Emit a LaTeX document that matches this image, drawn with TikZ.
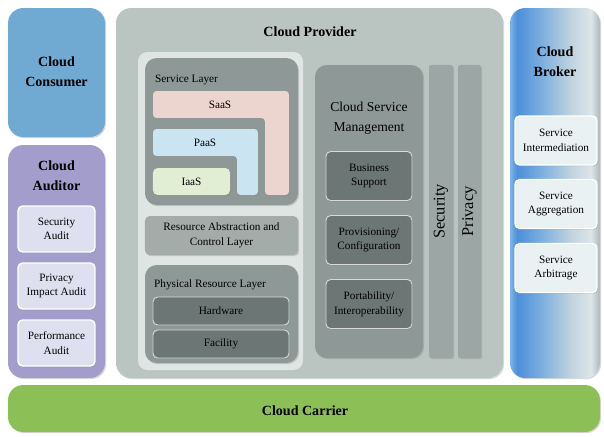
\documentclass[tikz,border=0pt]{standalone}
\usepackage{fontspec}
\setmainfont{Liberation Serif}
\usetikzlibrary{shadows}
\definecolor{consumer}{RGB}{112,170,210}
\definecolor{auditor}{RGB}{162,157,202}
\definecolor{auditbox}{RGB}{222,224,240}
\definecolor{provider}{RGB}{186,196,193}
\definecolor{panel}{RGB}{222,229,227}
\definecolor{layer}{RGB}{142,152,150}
\definecolor{racl}{RGB}{164,172,170}
\definecolor{darkbox}{RGB}{108,118,116}
\definecolor{bar}{RGB}{156,166,164}
\definecolor{saas}{RGB}{236,212,207}
\definecolor{paas}{RGB}{202,228,242}
\definecolor{iaas}{RGB}{226,238,212}
\definecolor{brokbox}{RGB}{234,241,243}
\definecolor{carrier}{RGB}{140,192,86}
\pgfdeclarehorizontalshading{brokershade}{100bp}{rgb(0bp)=(0.50,0.70,0.90); rgb(25bp)=(0.50,0.70,0.90);
 rgb(29bp)=(0.30,0.56,0.85); rgb(42bp)=(0.48,0.68,0.87); rgb(58bp)=(0.74,0.82,0.87);
 rgb(70bp)=(0.87,0.90,0.91); rgb(75bp)=(0.68,0.72,0.74); rgb(100bp)=(0.68,0.72,0.74)}
\newcommand{\ft}{\fontsize{9.6}{12.5}\selectfont}
\newcommand{\fm}{\fontsize{11.6}{17}\selectfont}
\newcommand{\fb}{\fontsize{12}{17}\selectfont\bfseries}
\newcommand{\fv}{\fontsize{14}{17}\selectfont}
\tikzset{
 sh/.style={drop shadow={opacity=0.3,shadow xshift=1pt,shadow yshift=-1pt}},
 big/.style={rounded corners=13pt,sh},
 mid/.style={rounded corners=10pt,sh},
 sub/.style={rounded corners=4pt,align=center,font=\ft,inner sep=1pt,sh},
 light/.style={sub,draw=white,line width=1.2pt},
 dark/.style={sub,fill=darkbox,draw=black!15,line width=0.8pt},
 vbar/.style={rotate=90,fill=bar,rounded corners=2pt,sh,minimum width=8.79cm,font=\fv}
}

\begin{document}
\begin{tikzpicture}[x=0.03cm,y=-0.03cm]
\useasboundingbox (0,0) rectangle (604,436);
% outer blocks
\path[big,fill=consumer] (8,8) rectangle (105,137);
\path[big,fill=auditor] (8,145) rectangle (105,378);
\path[big,fill=provider] (116,8) rectangle (503,378);
\path[big,shading=brokershade] (510,8) rectangle (600,378);
\path[big,fill=carrier] (8,385) rectangle (600,432);
\node[font=\fb,align=center] (cons) at (56.5,72) {Cloud\\Consumer};
\node[font=\fb,align=center] (aud) at (56.5,176) {Cloud\\Auditor};
\node[font=\fb] (prov) at (310,32) {Cloud Provider};
\node[font=\fb,align=center] (brok) at (555,62) {Cloud\\Broker};
\node[font=\fb] (carr) at (305,411) {Cloud Carrier};
% auditor and broker boxes
\foreach \y/\t [count=\i] in {229/{Security\\Audit},286/{Privacy\\Impact Audit},343/{Performance\\Audit}}
 \node[light,fill=auditbox,minimum width=2.31cm,minimum height=1.38cm] (aud\i) at (56.5,\y) {\t};
\foreach \y/\t [count=\i] in {140.5/{Service\\Intermediation},204/{Service\\Aggregation},268/{Service\\Arbitrage}}
 \node[light,fill=brokbox,minimum width=2.46cm,minimum height=1.47cm] (brok\i) at (556,\y) {\t};
% provider: layers
\path[rounded corners=8pt,fill=panel] (138,52) rectangle (303,370);
\path[mid,fill=layer] (145,58) rectangle (298,205);
\node[font=\ft,anchor=west] (sl) at (151,80) {Service Layer};
\path[rounded corners=3pt,fill=saas,sh] (153,91) -- (289,91) -- (289,195) -- (265,195) -- (265,118) -- (153,118) -- cycle;
\path[rounded corners=3pt,fill=paas,sh] (153,129) -- (258,129) -- (258,195) -- (237,195) -- (237,156) -- (153,156) -- cycle;
\node[font=\ft] (saas) at (220,104.5) {SaaS};
\node[font=\ft] (paas) at (205,142.5) {PaaS};
\node[sub,fill=iaas,minimum width=2.31cm,minimum height=0.81cm] (iaas) at (191.5,181.5) {IaaS};
\node[sub,fill=racl,minimum width=4.59cm,minimum height=1.17cm] (racl) at (221.5,235.5) {Resource Abstraction and\\Control Layer};
\path[mid,fill=layer] (145,265) rectangle (298,363);
\node[font=\ft,anchor=west] (prl) at (150,285) {Physical Resource Layer};
\node[dark,minimum width=4.08cm,minimum height=0.84cm] (hw) at (221,311) {Hardware};
\node[dark,minimum width=4.08cm,minimum height=0.84cm] (fac) at (221,344) {Facility};
% provider: management, security, privacy
\path[mid,fill=layer] (315,65) rectangle (423,358);
\node[font=\fm,align=center] (csm) at (369,118) {Cloud Service\\Management};
\foreach \y/\t [count=\i] in {176/{Business\\Support},240/{Provisioning/\\Configuration},304/{Portability/\\Interoperability}}
 \node[dark,minimum width=2.58cm,minimum height=1.47cm] (csm\i) at (369,\y) {\t};
\node[vbar,minimum height=0.72cm] (sec) at (441,211.5) {Security};
\node[vbar,minimum height=0.69cm] (priv) at (469.5,211.5) {Privacy};
\end{tikzpicture}
\end{document}
